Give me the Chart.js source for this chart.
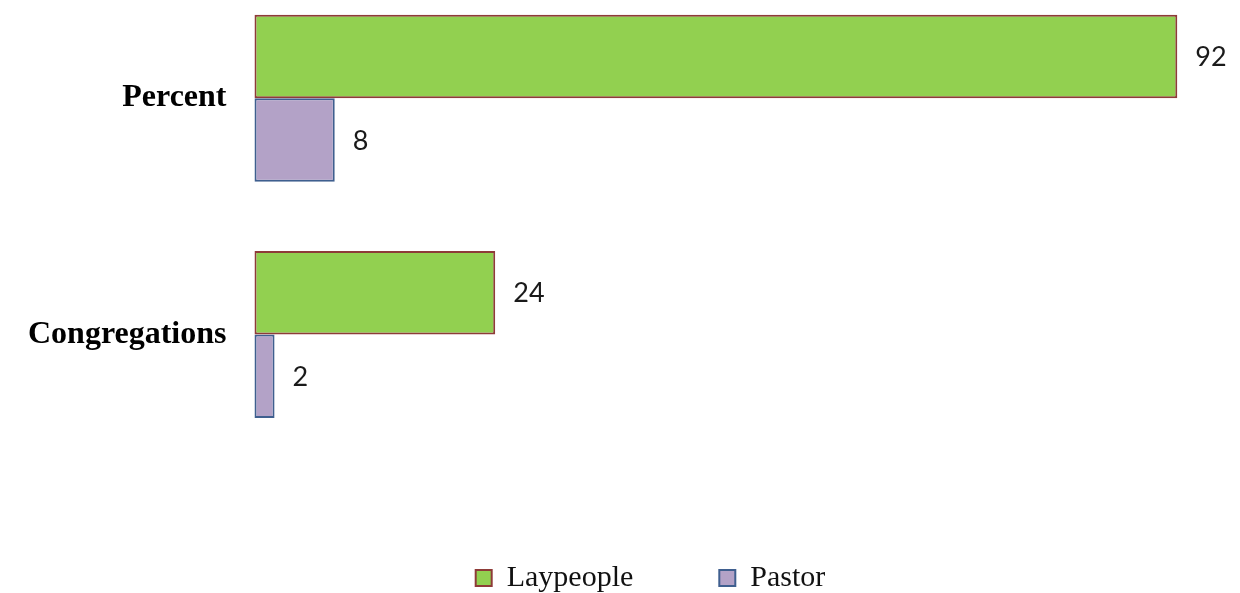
<!DOCTYPE html>
<html lang="en">
<head>
  <meta charset="UTF-8" />
  <title>Laypeople and Pastor</title>
  <script src="https://cdn.jsdelivr.net/npm/chart.js"></script>
  <style>
    html, body {
      margin: 0;
      padding: 0;
      background: #ffffff;
    }
    #wrap {
      width: 1240px;
      height: 593px;
    }
  </style>
</head>
<body>

<div id="wrap">
  <canvas id="grafico" width="1240" height="593"></canvas>
</div>

<script>
  // Dati
  const categorie = ['Percent', 'Congregations'];
  const laypeople = [92, 24];
  const pastor = [8, 2];

  // Numeri a destra di ogni barra
  const etichetteValori = {
    id: 'etichetteValori',
    afterDatasetsDraw(chart) {
      const ctx = chart.ctx;
      ctx.save();
      ctx.font = '27px Lato, "Open Sans", sans-serif';
      ctx.fillStyle = '#1a1a1a';
      ctx.textAlign = 'left';
      ctx.textBaseline = 'middle';
      chart.data.datasets.forEach((ds, i) => {
        chart.getDatasetMeta(i).data.forEach((bar, j) => {
          ctx.fillText(ds.data[j], bar.x + 18, bar.y + 1);
        });
      });
      ctx.restore();
    }
  };

  new Chart(document.getElementById('grafico'), {
    type: 'bar',
    data: {
      labels: categorie,
      datasets: [{
        label: 'Laypeople',
        data: laypeople,
        backgroundColor: '#92d050',
        borderColor: '#8e3b38',
        borderWidth: 2,
        borderSkipped: false,
        clip: false
      }, {
        label: 'Pastor',
        data: pastor,
        backgroundColor: '#b3a2c7',
        borderColor: '#3f5f8f',
        borderWidth: 2,
        borderSkipped: false,
        clip: false
      }]
    },
    options: {
      indexAxis: 'y',
      responsive: false,
      animation: false,
      categoryPercentage: 0.707,
      barPercentage: 1,
      layout: {
        // il margine destro negativo sposta la legenda verso destra
        padding: { top: 98.2, left: 0, right: -61, bottom: -10 }
      },
      scales: {
        x: {
          min: 0,
          max: 98.25,
          grid: { display: false, drawTicks: false },
          border: { display: false },
          ticks: { display: false },
          afterFit: s => { s.height = 142.5; }
        },
        y: {
          offset: false,
          grid: { display: false, drawTicks: false },
          border: { display: false },
          ticks: {
            padding: 28,
            color: '#000000',
            font: { family: '"Liberation Serif", "Times New Roman", serif', size: 32, weight: 'bold' }
          },
          afterFit: s => { s.width = 254.5; }
        }
      },
      plugins: {
        legend: {
          position: 'bottom',
          labels: {
            boxWidth: 16,
            boxHeight: 16,
            padding: 86,
            color: '#111111',
            font: { family: '"Liberation Serif", "Times New Roman", serif', size: 30 }
          }
        },
        tooltip: { enabled: false }
      }
    },
    plugins: [etichetteValori]
  });
</script>

</body>
</html>
